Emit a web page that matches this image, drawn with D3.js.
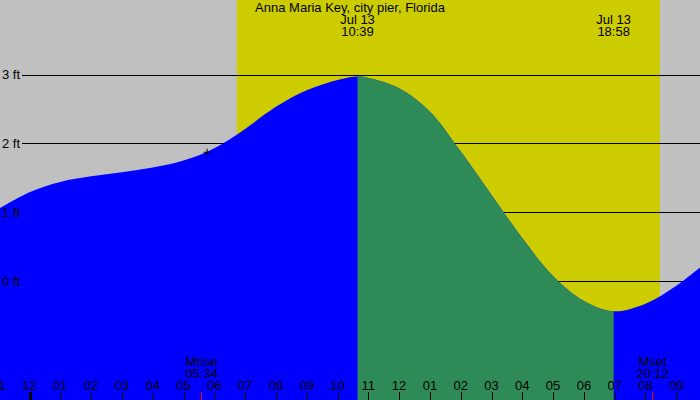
<!DOCTYPE html>
<html>
<head>
<meta charset="utf-8">
<script src="https://cdn.jsdelivr.net/npm/d3@7"></script>
<style>
  body { margin: 0; background: #c0c0c0; }
  svg { display: block; }
  text { font-family: "Liberation Sans", Arial, sans-serif; font-size: 13px; fill: #000; }
</style>
</head>
<body>
<script>
// tide chart

const title = 'Anna Maria Key, city pier, Florida';

// tide height (ft), sampled hourly (hours from midnight Jul 13) plus the turning points
const tideHours = [-1, 0, 1, 2, 3, 4, 5, 6, 7, 8, 9, 10, 10.65, 11, 12, 13, 14, 15, 16, 17, 18, 18.967, 20, 21, 22];
const tideFeet  = [1.05, 1.29, 1.44, 1.52, 1.58, 1.65, 1.75, 1.93, 2.21, 2.53, 2.77, 2.92, 2.97, 2.95, 2.80, 2.46, 1.88, 1.25, 0.62, 0.07, -0.29, -0.44, -0.33, -0.07, 0.28];

// high / low events
const eventDates = ['Jul 13', 'Jul 13'];
const eventTimes = ['10:39', '18:58'];

const sunTimes = ['06:44', '20:28'];          // daylight band
const moonLabels = ['Mrise', 'Mset'];
const moonTimes = ['05:34', '20:12'];
const markTime = '05:46';                       // the + marker
const markFeet = 1.87;

const hourTicks = d3.range(-1, 22);
const ftTicks = [0, 1, 2, 3];

const width = 700;
const height = 400;

const toHours = s => { const p = s.split(':'); return +p[0] + +p[1] / 60; };

const x = d3.scaleLinear()
  .domain([-29.5 / 30.8, (width - 29.5) / 30.8])
  .range([0, width]);

const y = d3.scaleLinear()
  .domain([0, 3])
  .range([281, 74.5]);

const svg = d3.select('body').append('svg')
  .attr('width', width)
  .attr('height', height);

svg.append('rect')
  .attr('width', width)
  .attr('height', height)
  .attr('fill', '#c0c0c0');

// daylight
svg.append('rect')
  .attr('x', x(toHours(sunTimes[0])))
  .attr('y', 0)
  .attr('width', x(toHours(sunTimes[1])) - x(toHours(sunTimes[0])))
  .attr('height', height)
  .attr('fill', '#cccc00');

// level lines
svg.append('g')
  .selectAll('line')
  .data(ftTicks)
  .enter().append('line')
  .attr('x1', 22)
  .attr('x2', width)
  .attr('y1', d => Math.round(y(d)) + 0.5)
  .attr('y2', d => Math.round(y(d)) + 0.5)
  .attr('stroke', '#000')
  .attr('stroke-width', 1);

const tide = tideHours.map((h, i) => ({ h: h, v: tideFeet[i] }));

const area = d3.area()
  .x(d => x(d.h))
  .y0(height)
  .y1(d => y(d.v))
  .curve(d3.curveCatmullRom.alpha(0.5));

const hi = toHours(eventTimes[0]);
const lo = toHours(eventTimes[1]);

svg.append('clipPath')
  .attr('id', 'ebb')
  .append('rect')
  .attr('x', x(hi))
  .attr('y', 0)
  .attr('width', x(lo) - x(hi))
  .attr('height', height);

svg.append('path')
  .datum(tide)
  .attr('d', area)
  .attr('fill', '#0000ff');

svg.append('path')
  .datum(tide)
  .attr('d', area)
  .attr('fill', '#2e8b57')
  .attr('clip-path', 'url(#ebb)');

// ft labels
svg.append('g')
  .selectAll('text')
  .data(ftTicks)
  .enter().append('text')
  .attr('x', 2)
  .attr('y', d => y(d) + 4.5)
  .text(d => d + ' ft');

// + marker
const mx = x(toHours(markTime));
const my = y(markFeet);
svg.append('path')
  .attr('d', `M${mx - 3.5},${my}H${mx + 3.5}M${mx},${my - 3.5}V${my + 3.5}`)
  .attr('stroke', '#000')
  .attr('stroke-width', 1);

// title and event labels
svg.append('text')
  .attr('x', 350)
  .attr('y', 12)
  .attr('text-anchor', 'middle')
  .text(title);

eventTimes.forEach((t, i) => {
  const g = svg.append('g').attr('text-anchor', 'middle');
  g.append('text').attr('x', x(toHours(t))).attr('y', 24).text(eventDates[i]);
  g.append('text').attr('x', x(toHours(t))).attr('y', 36).text(t);
});

// hour axis
const hourLabel = h => d3.format('02')(((h % 12) + 12) % 12 || 12);

svg.append('g')
  .selectAll('text')
  .data(hourTicks)
  .enter().append('text')
  .attr('x', d => x(d))
  .attr('y', 390)
  .attr('text-anchor', 'middle')
  .text(hourLabel);

svg.append('g')
  .selectAll('line')
  .data(hourTicks)
  .enter().append('line')
  .attr('x1', d => Math.round(x(d)) + 0.5)
  .attr('x2', d => Math.round(x(d)) + 0.5)
  .attr('y1', 392)
  .attr('y2', height)
  .attr('stroke', '#000')
  .attr('stroke-width', d => d === 0 ? 3 : 1);

// moon rise / set
moonTimes.forEach((t, i) => {
  const mxp = Math.round(x(toHours(t))) + 0.5;
  svg.append('line')
    .attr('x1', mxp).attr('x2', mxp)
    .attr('y1', 392).attr('y2', height)
    .attr('stroke', '#ff0000');
  svg.append('text').attr('x', mxp).attr('y', 366).attr('text-anchor', 'middle').text(moonLabels[i]);
  svg.append('text').attr('x', mxp).attr('y', 378).attr('text-anchor', 'middle').text(t);
});
</script>
</body>
</html>
